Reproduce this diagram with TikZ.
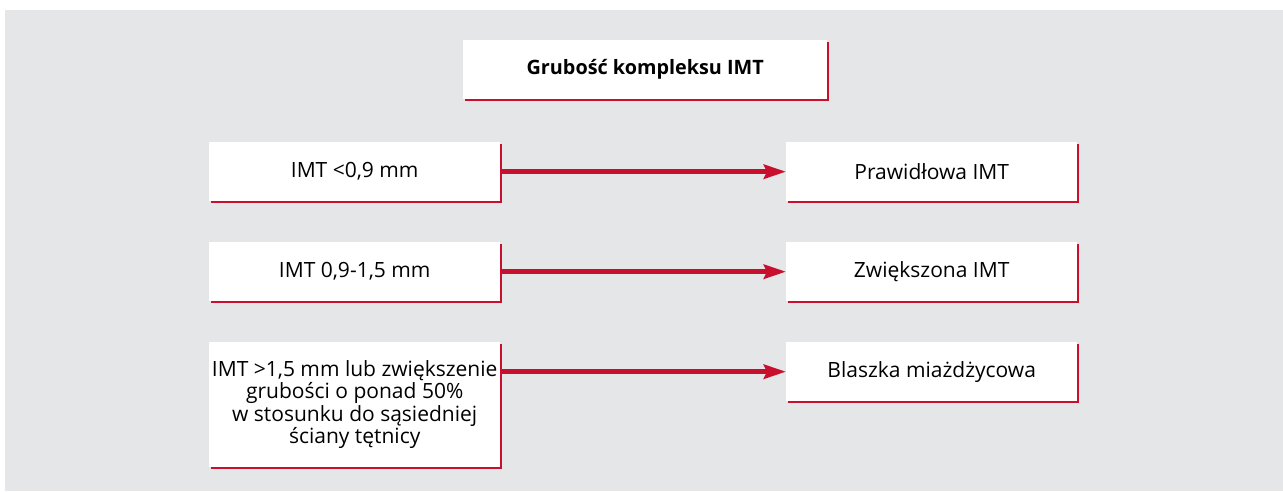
\documentclass[tikz,border=0pt]{standalone}
\usepackage{fontspec}
\setmainfont{Open Sans}
\usetikzlibrary{arrows.meta,shadows,positioning}
\definecolor{IMTRed}{HTML}{C8102E}
\definecolor{PanelGray}{HTML}{E5E6E8}

\begin{document}
\begin{tikzpicture}[x=1pt,y=-1pt,
  box/.style={fill=white,anchor=north west,minimum width=291pt,minimum height=59pt,inner sep=0pt,align=center,
    font=\fontsize{21}{22.5}\selectfont,drop shadow={shadow xshift=2pt,shadow yshift=-2pt,fill=IMTRed,opacity=1}},
  link/.style={IMTRed,line width=5pt,-{Stealth[length=22pt,width=14pt,inset=3pt]}}]
  \useasboundingbox (0,0) rectangle (1283,492);
  \fill[PanelGray] (5,10) rectangle (1283,491);
  % title
  \node[box,minimum width=364pt,font=\fontsize{19.8}{22}\selectfont\bfseries] (title) at (463,40) {Grubość kompleksu IMT};
  % left column: measured thickness
  \node[box] (low) at (209,142) {IMT <0,9 mm};
  \node[box] (mid) at (209,242) {IMT 0,9-1,5 mm};
  \node[box,minimum height=125pt] (high) at (209,342) {IMT >1,5 mm lub zwiększenie\\grubości o ponad 50\%\\w stosunku do sąsiedniej\\ściany tętnicy};
  % right column: result
  \node[box] (normal) at (786,142) {Prawidłowa IMT};
  \node[box] (raised) at (786,242) {Zwiększona IMT};
  \node[box] (plaque) at (786,342) {Blaszka miażdżycowa};
  \draw[link] (low) -- (normal);
  \draw[link] (mid) -- (raised);
  \draw[link] (high.east |- plaque.west) -- (plaque);
\end{tikzpicture}
\end{document}
